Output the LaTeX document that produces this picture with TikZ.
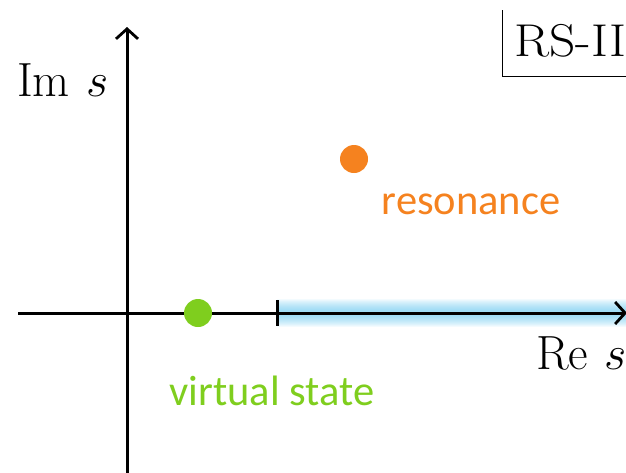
\documentclass[tikz,border=0pt]{standalone}
\usepackage{fix-cm}
\usepackage{fontspec}
\newfontfamily\labelfont{Carlito}
\usetikzlibrary{arrows.meta}
\definecolor{resorange}{HTML}{F5821F}
\definecolor{virtgreen}{HTML}{7FCE1E}
\definecolor{glowblue}{HTML}{5CC3EE}
\begin{document}
\begin{tikzpicture}[x=1pt,y=-1pt,
  axis/.style={line width=3pt,-{Straight Barb[length=10pt,width=22pt,line width=2.8pt]}},
  pole/.style={circle,inner sep=0pt,minimum size=28pt},
  lbl/.style={inner sep=0pt,font=\fontsize{42.5}{50}\selectfont\labelfont},
  mathlbl/.style={inner sep=0pt,font=\fontsize{48}{58}\selectfont},
  glow/.style={line width=#1,draw=glowblue,draw opacity=0.07}]
\useasboundingbox (0,0) rectangle (626,472);

% coordinates of axes and the threshold
\coordinate (xL) at (18,313);
\coordinate (xR) at (627,313);
\coordinate (yB) at (127,475);
\coordinate (yT) at (127,27);
\coordinate (thr) at (277,313);

% soft glow along the cut from the threshold
\foreach \w in {28pt,26pt,24pt,22pt,20pt,18pt,16pt,14pt,12pt,10pt,8pt,6pt}
  \draw[glow=\w] (thr) -- (xR);

% axes
\draw[axis] (xL) -- (xR);
\draw[axis] (yB) -- (yT);
\draw[line width=3pt] (277,300) -- (277,326);

% axis labels
\node[mathlbl,anchor=base west] (im) at (17,96) {Im\,\,$s$};
\node[mathlbl,anchor=base west] (re) at (536,369) {Re\,\,$s$};

% sheet label
\draw[line width=0.9pt] (502,10) -- (502,76) -- (630,76);
\node[inner sep=0pt,anchor=base west,xscale=1.12,font=\fontsize{46}{55}\selectfont] (rs) at (514,56) {RS-II};

% poles
\node[pole,fill=resorange] (res) at (354,159) {};
\node[lbl,text=resorange] (reslbl) at (471,204) {resonance};
\node[pole,fill=virtgreen] (vs) at (198,313) {};
\node[lbl,text=virtgreen] (vslbl) at (272,391) {virtual state};
\end{tikzpicture}
\end{document}
